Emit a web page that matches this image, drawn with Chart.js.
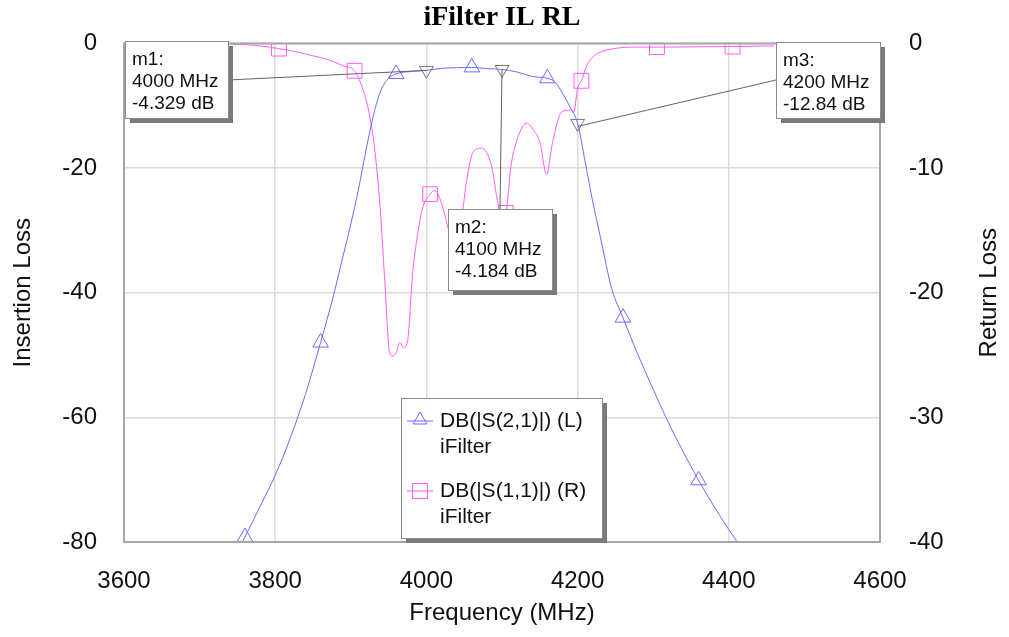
<!DOCTYPE html>
<html>
<head>
<meta charset="utf-8">
<script src="https://cdn.jsdelivr.net/npm/chart.js@4/dist/chart.umd.min.js"></script>
<style>
  body { margin: 0; background: #fff; }
  #wrap { width: 1009px; height: 637px; }
</style>
</head>
<body>
<div id="wrap"><canvas id="chart" width="1009" height="637"></canvas></div>
<script>
// S21 (insertion loss, left axis)
const freqIL = [3740, 3760, 3780, 3800, 3820, 3840, 3860, 3877, 3890, 3900, 3910, 3920, 3930, 3940, 3950, 3960, 3980, 4000, 4020, 4040, 4060, 4080, 4100, 4120, 4140, 4160, 4170, 4180, 4190, 4200, 4210, 4220, 4230, 4245, 4260, 4280, 4300, 4320, 4340, 4360, 4380, 4400, 4420, 4440, 4460];
const insertionLoss = [-84, -79.2, -74.3, -69.3, -63.3, -56.3, -48, -40.5, -34, -29, -23.5, -17.2, -11.5, -7.5, -5.6, -4.9, -4.5, -4.33, -4.0, -3.9, -3.85, -4.05, -4.18, -4.6, -5.3, -5.6, -6.2, -8.0, -10.2, -12.84, -19, -25.4, -31, -39.3, -44, -50, -55.5, -60.8, -65.6, -70.1, -74.2, -78, -81.5, -84.8, -88];
const ilSymbols = [3760, 3860, 3960, 4060, 4160, 4260, 4360];

// S11 (return loss, right axis)
const freqRL = [3740, 3760, 3780, 3805, 3830, 3850, 3870, 3890, 3905, 3915, 3921, 3927, 3932, 3938, 3945, 3951, 3955, 3960, 3965, 3970, 3975, 3982, 3989, 3995, 4005, 4011, 4022, 4029, 4038, 4048, 4053, 4062, 4073, 4086, 4095, 4102, 4105, 4112, 4119, 4128, 4133, 4142, 4150, 4159, 4167, 4179, 4190, 4195, 4200, 4205, 4212, 4220, 4230, 4250, 4273, 4305, 4350, 4405, 4460];
const returnLoss = [-0.05, -0.1, -0.2, -0.42, -0.7, -1.0, -1.3, -1.8, -2.2, -3.5, -4.7, -6.5, -8.7, -12.5, -19.1, -24.7, -25.1, -24.8, -24.0, -24.4, -23.9, -18.3, -15.1, -13.2, -12.1, -11.8, -13.2, -14.9, -16.3, -13.4, -11.1, -8.7, -8.4, -9.8, -12.9, -13.8, -13.6, -9.8, -7.9, -6.6, -6.4, -7.0, -7.9, -10.5, -7.9, -5.5, -5.35, -5.5, -3.6, -3.0, -1.8, -1.1, -0.7, -0.4, -0.3, -0.3, -0.28, -0.25, -0.2];
const rlSymbols = [3805, 3905, 4005, 4105, 4205, 4305, 4405];

// markers m1..m3 on S21
const markerNames = ["m1", "m2", "m3"];
const markerFreq = [4000, 4100, 4200];
const markerDb = [-4.329, -4.184, -12.84];

const legendLabels = ["DB(|S(2,1)|) (L)", "DB(|S(1,1)|) (R)"];
const sourceName = "iFilter";
const chartTitle = "iFilter IL RL";

const BLUE = "#6b6bff";
const MAGENTA = "#ff5cff";
const FONT = "'Liberation Sans', Arial, sans-serif";

const toPoints = (xs, ys) => xs.map((x, i) => ({ x: x, y: ys[i] }));

function shadowBox(ctx, x, y, w, h) {
  ctx.fillStyle = "#7a7a7a";
  ctx.fillRect(x + 5, y + 5, w, h);
  ctx.fillStyle = "#fff";
  ctx.fillRect(x, y, w, h);
  ctx.strokeStyle = "#8c8c8c";
  ctx.lineWidth = 1;
  ctx.strokeRect(x + 0.5, y + 0.5, w, h);
}

const overlay = {
  id: "overlay",
  beforeDraw(chart) {
    const ctx = chart.ctx;
    ctx.save();
    ctx.fillStyle = "#fff";
    ctx.fillRect(0, 0, chart.width, chart.height);
    ctx.restore();
  },
  afterDraw(chart) {
    const ctx = chart.ctx;
    const a = chart.chartArea;
    const xs = chart.scales.x, ys = chart.scales.y;
    ctx.save();

    // plot frame
    ctx.strokeStyle = "#a6a6a6";
    ctx.lineWidth = 2;
    ctx.strokeRect(a.left, a.top, a.right - a.left, a.bottom - a.top);

    // title
    ctx.fillStyle = "#000";
    ctx.font = "bold 28px 'Liberation Serif', 'Times New Roman', serif";
    ctx.textAlign = "center";
    ctx.textBaseline = "middle";
    ctx.fillText(chartTitle, (a.left + a.right) / 2, 18);

    // right axis title, reads bottom to top
    ctx.save();
    ctx.translate(989, (a.top + a.bottom) / 2);
    ctx.rotate(-Math.PI / 2);
    ctx.font = "24px " + FONT;
    ctx.fillStyle = "#111";
    ctx.fillText("Return Loss", 0, 0);
    ctx.restore();

    // marker leader lines + boxes
    const boxes = [
      { x: 125, y: 41, w: 103, h: 77 },
      { x: 448, y: 209, w: 104, h: 81 },
      { x: 776, y: 42, w: 104, h: 76 }
    ];
    ctx.strokeStyle = "#666";
    ctx.lineWidth = 1;
    markerFreq.forEach((f, i) => {
      const px = xs.getPixelForValue(f), py = ys.getPixelForValue(markerDb[i]);
      const b = boxes[i];
      ctx.beginPath();
      if (i === 0) { ctx.moveTo(b.x + b.w, b.y + 39); ctx.lineTo(px, py); }
      else if (i === 1) { ctx.moveTo(px, py); ctx.lineTo(px - 2, b.y); }
      else { ctx.moveTo(b.x, b.y + 38); ctx.lineTo(px, py + 3); }
      ctx.stroke();
    });
    ctx.font = "19px " + FONT;
    ctx.textAlign = "left";
    ctx.textBaseline = "middle";
    markerFreq.forEach((f, i) => {
      const b = boxes[i];
      shadowBox(ctx, b.x, b.y, b.w, b.h);
      ctx.fillStyle = "#111";
      ctx.fillText(markerNames[i] + ":", b.x + 7, b.y + 19);
      ctx.fillText(f + " MHz", b.x + 7, b.y + 41);
      ctx.fillText(markerDb[i] + " dB", b.x + 7, b.y + 63);
    });

    // legend
    const lx = 401, ly = 398;
    shadowBox(ctx, lx, ly, 201, 140);
    const styles = [
      { color: BLUE, pointStyle: "triangle", radius: 8 },
      { color: MAGENTA, pointStyle: "rect", radius: 10.5 }
    ];
    ctx.font = "21px " + FONT;
    legendLabels.forEach((lab, i) => {
      const y = ly + 23 + i * 70;
      const s = styles[i];
      ctx.strokeStyle = s.color;
      ctx.lineWidth = 1;
      ctx.beginPath();
      ctx.moveTo(lx + 6, y);
      ctx.lineTo(lx + 32, y);
      ctx.stroke();
      ctx.fillStyle = "rgba(0,0,0,0)";
      Chart.helpers.drawPoint(ctx, { pointStyle: s.pointStyle, radius: s.radius, rotation: 0, borderWidth: 1 }, lx + 19, y - (i === 0 ? 1 : 0));
      ctx.fillStyle = "#111";
      ctx.fillText(lab, lx + 39, y);
      ctx.fillText(sourceName, lx + 39, y + 26);
    });

    ctx.restore();
  }
};

new Chart(document.getElementById("chart"), {
  type: "line",
  data: {
    datasets: [
      {
        label: legendLabels[0],
        data: toPoints(freqIL, insertionLoss),
        yAxisID: "y",
        borderColor: BLUE,
        backgroundColor: "rgba(0,0,0,0)",
        borderWidth: 1,
        cubicInterpolationMode: "monotone",
        pointStyle: "triangle",
        pointBorderColor: BLUE,
        pointBorderWidth: 1,
        pointRadius: (c) => (ilSymbols.includes(c.raw.x) ? 9 : 0)
      },
      {
        label: legendLabels[1],
        data: toPoints(freqRL, returnLoss),
        yAxisID: "y1",
        borderColor: MAGENTA,
        backgroundColor: "rgba(0,0,0,0)",
        borderWidth: 1,
        cubicInterpolationMode: "monotone",
        pointStyle: "rect",
        pointBorderColor: MAGENTA,
        pointBorderWidth: 1,
        pointRadius: (c) => (rlSymbols.includes(c.raw.x) ? 10.5 : 0)
      },
      {
        label: "markers",
        data: toPoints(markerFreq, markerDb),
        yAxisID: "y",
        showLine: false,
        pointStyle: "triangle",
        pointRotation: 180,
        pointRadius: 8,
        pointBorderWidth: 1,
        pointBorderColor: "#777",
        pointBackgroundColor: "rgba(0,0,0,0)"
      }
    ]
  },
  options: {
    responsive: false,
    animation: false,
    events: [],
    layout: { padding: { top: 41, left: 0, right: 0, bottom: 0 } },
    plugins: { legend: { display: false }, tooltip: { enabled: false } },
    scales: {
      x: {
        type: "linear",
        min: 3600,
        max: 4600,
        afterFit: (s) => { s.height = 95; },
        ticks: { stepSize: 200, padding: 25, color: "#111", font: { family: FONT, size: 24 }, callback: (v) => String(v) },
        grid: { color: "#dcdcdc", lineWidth: 1.5, drawTicks: false },
        border: { display: false },
        title: { display: true, text: "Frequency (MHz)", color: "#111", font: { family: FONT, size: 24 }, padding: { top: 0, bottom: 9 } }
      },
      y: {
        position: "left",
        min: -80,
        max: 0,
        afterFit: (s) => { s.width = 124; },
        ticks: { stepSize: 20, padding: 27, color: "#111", font: { family: FONT, size: 24 } },
        grid: { color: "#dcdcdc", lineWidth: 1.5, drawTicks: false },
        border: { display: false },
        title: { display: true, text: "Insertion Loss", color: "#111", font: { family: FONT, size: 24 }, padding: { top: 9, bottom: 0 } }
      },
      y1: {
        position: "right",
        min: -40,
        max: 0,
        afterFit: (s) => { s.width = 129; },
        ticks: { stepSize: 10, padding: 29, color: "#111", font: { family: FONT, size: 24 } },
        grid: { display: false, drawTicks: false },
        border: { display: false }
      }
    }
  },
  plugins: [overlay]
});
</script>
</body>
</html>
